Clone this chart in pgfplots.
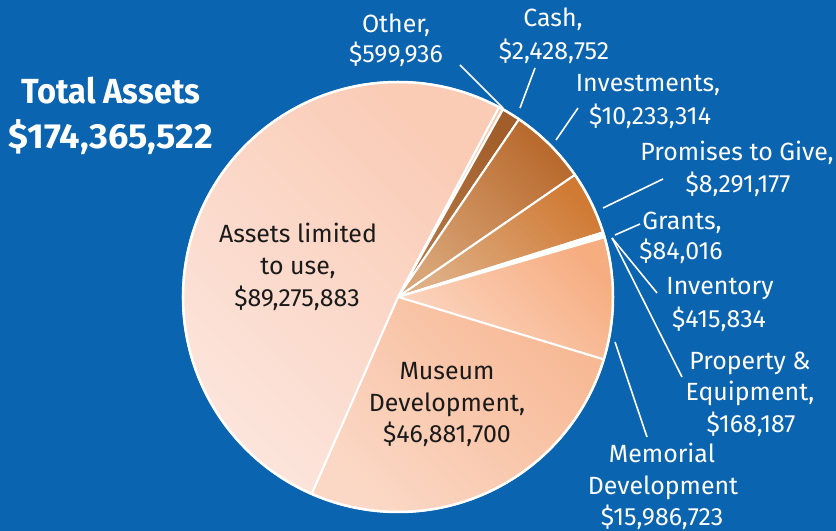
\documentclass[border=0pt]{standalone}
\usepackage{pgfplots}
\pgfplotsset{compat=1.18}
\usepackage{pgfplotstable}
\usepackage{fontspec}
\setmainfont{Fira Sans}
\newfontfamily\labfont[FakeStretch=1.0]{Fira Sans}
\newfontfamily\titfontA[FakeStretch=0.937]{Fira Sans}
\newfontfamily\titfontB[FakeStretch=1.037]{Fira Sans}

\definecolor{bg}{HTML}{0A64AF}
\definecolor{othT}{HTML}{F6CDB2}\definecolor{othB}{HTML}{FBE3D3}
\definecolor{cashT}{HTML}{A25E2A}\definecolor{cashB}{HTML}{B57A4A}
\definecolor{invT}{HTML}{B8692C}\definecolor{invB}{HTML}{D9A577}
\definecolor{proT}{HTML}{D07A34}\definecolor{proB}{HTML}{DEAF85}
\definecolor{smT}{HTML}{FFFFFF}\definecolor{smB}{HTML}{FFF5EE}
\definecolor{memT}{HTML}{F6AD80}\definecolor{memB}{HTML}{FCD6C2}
\definecolor{musT}{HTML}{F7B894}\definecolor{musB}{HTML}{FBD8C6}
\definecolor{assT}{HTML}{FACBB5}\definecolor{assB}{HTML}{FCE6DE}
\definecolor{txt}{HTML}{1A1A1A}

\pgfplotstableread{
label value ctop cbot
Other 599936 othT othB
Cash 2428752 cashT cashB
Investments 10233314 invT invB
Promises 8291177 proT proB
Grants 84016 smT smB
Inventory 415834 smT smB
Property 168187 smT smB
Memorial 15986723 memT memB
Museum 46881700 musT musB
Assets 89275883 assT assB
}\pietable

\newcommand{\lab}[4][white]{\node[anchor=base, inner sep=0pt, text=#1, font=\labfont\fontsize{25}{30}\selectfont] at (axis cs:#2,#3) {#4};}

\begin{document}
\begin{tikzpicture}
\useasboundingbox (0,0) rectangle (836bp,531bp);
\clip (0,0) rectangle (836bp,531bp);
% total and angles
\gdef\pietotal{0}
\pgfplotsforeachungrouped \i in {0,...,9}{%
  \pgfplotstablegetelem{\i}{value}\of\pietable
  \pgfkeys{/pgf/fpu=true,/pgf/fpu/output format=fixed}%
  \pgfmathparse{\pietotal+\pgfplotsretval}%
  \xdef\pietotal{\pgfmathresult}%
  \pgfkeys{/pgf/fpu=false}%
}
\gdef\cum{0}
\pgfplotsforeachungrouped \i in {0,...,9}{%
  \pgfplotstablegetelem{\i}{value}\of\pietable
  \pgfkeys{/pgf/fpu=true,/pgf/fpu/output format=fixed}%
  \pgfmathparse{62-360*\cum/\pietotal}%
  \expandafter\xdef\csname pieangA\i\endcsname{\pgfmathresult}%
  \pgfmathparse{\cum+\pgfplotsretval}%
  \xdef\cum{\pgfmathresult}%
  \pgfmathparse{62-360*\cum/\pietotal}%
  \expandafter\xdef\csname pieangB\i\endcsname{\pgfmathresult}%
  \pgfkeys{/pgf/fpu=false}%
}
\begin{axis}[
  width=836bp, height=531bp, scale only axis,
  xmin=0, xmax=836, ymin=0, ymax=531,
  axis lines=none, clip=false,
]
\fill[bg] (axis cs:0,0) rectangle (axis cs:836,531);
\pgfplotsforeachungrouped \i in {0,...,9}{%
  \pgfplotstablegetelem{\i}{ctop}\of\pietable\let\ct\pgfplotsretval
  \pgfplotstablegetelem{\i}{cbot}\of\pietable\let\cb\pgfplotsretval
  \edef\temp{\noexpand\shadedraw[draw=white, line width=2bp, line join=round, top color=\ct, bottom color=\cb, shading angle=-45] (axis cs:398,234) -- ++(\csname pieangA\i\endcsname:215bp) arc[start angle=\csname pieangA\i\endcsname, end angle=\csname pieangB\i\endcsname, radius=215bp] -- cycle;}%
  \temp
}
\draw[white, line width=2.5bp] (axis cs:398,234) circle[radius=215bp];

% leader lines
\draw[white, line width=1.6bp] (axis cs:460,466) -- (axis cs:503,423);
\draw[white, line width=1.6bp] (axis cs:535,463) -- (axis cs:520,423);
\draw[white, line width=1.6bp] (axis cs:578,423) -- (axis cs:556,391);
\draw[white, line width=1.6bp] (axis cs:663,352) -- (axis cs:603,323);
\draw[white, line width=1.6bp] (axis cs:640,307) -- (axis cs:615,296);
\draw[white, line width=1.6bp] (axis cs:612,293) -- (axis cs:657,238);
\draw[white, line width=1.6bp] (axis cs:612,293) -- (axis cs:682,154);
\draw[white, line width=1.6bp] (axis cs:615,189) -- (axis cs:647,94);

% title
\node[anchor=base, inner sep=0pt, text=white, font=\titfontA\bfseries\fontsize{35}{40}\selectfont] at (axis cs:111,427) {Total Assets};
\node[anchor=base, inner sep=0pt, text=white, font=\titfontB\bfseries\fontsize{35}{40}\selectfont] at (axis cs:111,382) {\$174,365,522};

% labels
\lab{396}{498}{Other,}
\lab{396}{468}{\$599,936}
\lab{553}{504}{Cash,}
\lab{554}{471}{\$2,428,752}
\lab{648}{439}{Investments,}
\lab{650}{406}{\$10,233,314}
\lab{737}{370}{Promises to Give,}
\lab{738}{338}{\$8,291,177}
\lab{682}{301}{Grants,}
\lab{681}{271}{\$84,016}
\lab{720}{236}{Inventory}
\lab{719}{203}{\$415,834}
\lab{750}{161}{Property \&}
\lab{750}{130}{Equipment,}
\lab{751}{98}{\$168,187}
\lab{662}{68}{Memorial}
\lab{663}{36}{Development}
\lab{662}{5.5}{\$15,986,723}
\lab[txt]{298}{288}{Assets limited}
\lab[txt]{298}{256}{to use,}
\lab[txt]{297}{224}{\$89,275,883}
\lab[txt]{447}{151}{Museum}
\lab[txt]{447}{119}{Development,}
\lab[txt]{447}{88}{\$46,881,700}
\end{axis}
\end{tikzpicture}
\end{document}
